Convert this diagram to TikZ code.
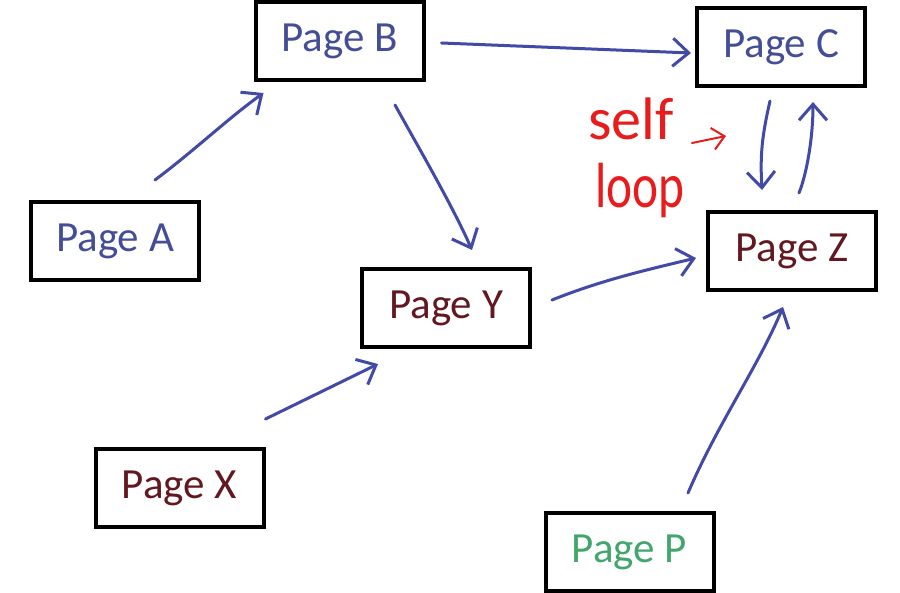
\documentclass[tikz,border=0pt]{standalone}
\usepackage{fontspec}
\setmainfont{Carlito}
\usetikzlibrary{arrows.meta,calc}
\definecolor{pblue}{RGB}{68,78,150}
\definecolor{pred}{RGB}{98,24,30}
\definecolor{pgreen}{RGB}{66,166,108}
\definecolor{arrowblue}{RGB}{66,74,168}
\definecolor{selfred}{RGB}{232,28,28}
\begin{document}
\begin{tikzpicture}[x=0.5pt,y=-0.5pt,
  page/.style={draw=black,line width=2pt,minimum width=84pt,minimum height=39pt,inner sep=0pt,font=\fontsize{21.5}{25}\selectfont},
  link/.style={draw=arrowblue,line width=1.5pt,line cap=round,line join=round,-{Straight Barb[length=8pt,width=14pt,line width=1.5pt]}},
  redlink/.style={draw=selfred,line width=1pt,line cap=round,-{Straight Barb[length=6pt,width=11pt,line width=1pt]}},
  note/.style={text=selfred,inner sep=0pt}]
\useasboundingbox (0,0) rectangle (900,593);
\fill[white] (0,0) rectangle (900,593);
% pages
\node[page,text=pblue]  (B) at (339.5,41)  {Page B};
\node[page,text=pblue]  (A) at (115,241)   {Page A};
\node[page,text=pblue]  (C) at (781,47)    {Page C};
\node[page,text=pred]   (Z) at (792,251)   {Page Z};
\node[page,text=pred]   (Y) at (446,308)   {Page Y};
\node[page,text=pred]   (X) at (179.5,488) {Page X};
\node[page,text=pgreen] (P) at (629.5,552) {Page P};
% links
\draw[link] ([shift={(40,-20)}]A.north) .. controls +(40,-30) and +(-35,25) .. ([shift={(10,11)}]B.south west);
\draw[link] ([shift={(55.5,23)}]B.south) .. controls +(25,45) and +(-20,-45) .. ([shift={(26,-17)}]Y.north);
\draw[link] ([shift={(16,2)}]B.east) -- ([shift={(-4,6)}]C.west);
\draw[link] ([shift={(20,-8)}]Y.east) .. controls +(50,-20) and +(-50,12) .. ([shift={(-10,7)}]Z.west);
\draw[link] ([shift={(0,-28)}]X.north east) -- ([shift={(18,15)}]Y.south west);
\draw[link] ([shift={(58.5,-18)}]P.north) .. controls +(30,-70) and +(-25,60) .. ([shift={(-9,15)}]Z.south);
\draw[link] ([shift={(-11,13)}]C.south) .. controls +(-8,35) and +(-2,-35) .. ([shift={(-30,-20)}]Z.north);
\draw[link] ([shift={(7,-17)}]Z.north) .. controls +(8,-20) and +(0,35) .. ([shift={(32,14)}]C.south);
% self loop note
\node[note,font=\fontsize{30}{30}\selectfont] (self) at (631,119) {self};
\node[note,font=\fontsize{29}{29}\selectfont,xscale=0.85,yscale=1.1] (loop) at (640,190) {loop};
\coordinate (redS) at (692,143);
\coordinate (redE) at (726,136);
\draw[redlink] (redS) -- (redE);
\end{tikzpicture}
\end{document}
